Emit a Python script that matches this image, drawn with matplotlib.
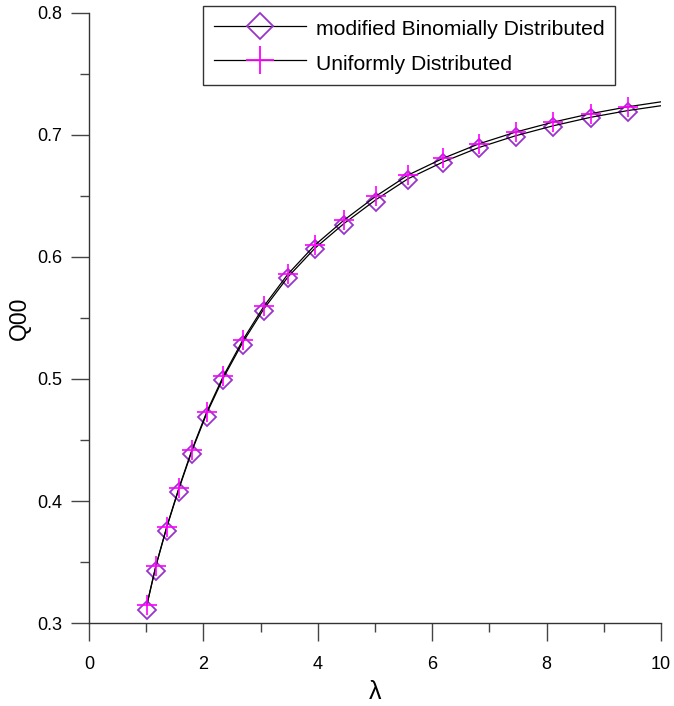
import numpy as np
import matplotlib
matplotlib.use('Agg')
import matplotlib.pyplot as plt
from matplotlib.lines import Line2D
from matplotlib.ticker import MultipleLocator

plt.rcParams['font.family'] = ['Liberation Sans', 'DejaVu Sans']

#marker positions
lam = [1.01, 1.17, 1.36, 1.57, 1.80, 2.06, 2.35, 2.69, 3.06, 3.48,
       3.95, 4.46, 5.02, 5.58, 6.19, 6.82, 7.46, 8.11, 8.77, 9.43]
q_unif = [0.3145, 0.3470, 0.3790, 0.4104, 0.4420, 0.4732, 0.5025, 0.5320, 0.5598, 0.5861,
          0.6098, 0.6303, 0.6500, 0.6672, 0.6809, 0.6928, 0.7024, 0.7105, 0.7175, 0.7232]
q_binom = [0.3107, 0.3429, 0.3754, 0.4071, 0.4384, 0.4691, 0.4988, 0.5279, 0.5560, 0.5825,
           0.6063, 0.6262, 0.6453, 0.6631, 0.6768, 0.6893, 0.6986, 0.7068, 0.7140, 0.7191]

#the two black curves (same abscissas plus the end at 10)
line_lam = lam + [10.0]
line_unif = q_unif + [0.7272]
line_binom = [0.3145, 0.3468, 0.3785, 0.4097, 0.4411, 0.4720, 0.5010, 0.5302, 0.5577, 0.5837,
              0.6072, 0.6275, 0.6471, 0.6642, 0.6779, 0.6898, 0.6994, 0.7075, 0.7145, 0.7201, 0.7240]

purple = '#9933cc'
magenta = '#ff00ff'

fig = plt.figure(figsize=(6.74, 7.06), dpi=100)
ax = fig.add_axes([89/674, 1-623/706, (661-89)/674, (623-13)/706])

ax.plot(lam, q_binom, linestyle='none', marker='D', ms=9, mfc='none', mec=purple, mew=1.3, zorder=2)
ax.plot(line_lam, line_binom, color='black', lw=0.9, zorder=3)
ax.plot(line_lam, line_unif, color='black', lw=0.9, zorder=3)
ax.plot(lam, q_unif, linestyle='none', marker='+', ms=14, mec=magenta, mew=1.2, zorder=4)

ax.set_xlim(0, 10)
ax.set_ylim(0.3, 0.8)
ax.xaxis.set_major_locator(MultipleLocator(2))
ax.xaxis.set_minor_locator(MultipleLocator(1))
ax.yaxis.set_major_locator(MultipleLocator(0.1))
ax.yaxis.set_minor_locator(MultipleLocator(0.05))
ax.yaxis.set_major_formatter(plt.FuncFormatter(lambda v, p: '%.1f' % v))

for s in ['top', 'right']:
    ax.spines[s].set_visible(False)
for s in ['left', 'bottom']:
    ax.spines[s].set_color('#333333')
    ax.spines[s].set_linewidth(1.0)

ax.tick_params(which='major', direction='out', length=13, width=1.0, color='#444444', labelsize=13)
ax.tick_params(which='minor', direction='out', length=6.5, width=1.0, color='#444444')
ax.tick_params(axis='y', which='major', pad=6)
ax.tick_params(axis='x', which='major', pad=11)

ax.set_xlabel('λ', fontsize=18, labelpad=5)
ax.set_ylabel('Q00', fontsize=16.5, labelpad=5)

h1 = Line2D([], [], color='black', lw=0.9, marker='D', ms=13.5, mfc='none', mec=purple, mew=1.3)
h2 = Line2D([], [], color='black', lw=0.9, marker='+', ms=20, mec=magenta, mew=1.3)
leg = fig.legend([h1, h2], ['modified Binomially Distributed', 'Uniformly Distributed'],
                 loc='upper left', bbox_to_anchor=(203/674, 1-6/706), fontsize=15.2,
                 handlelength=4.4, handleheight=1.35, fancybox=False, framealpha=1,
                 edgecolor='#333333', borderaxespad=0, labelspacing=0.5,
                 borderpad=0.5, handletextpad=0.45)
leg.get_frame().set_linewidth(1.0)

fig.savefig('out.png', dpi=100)
